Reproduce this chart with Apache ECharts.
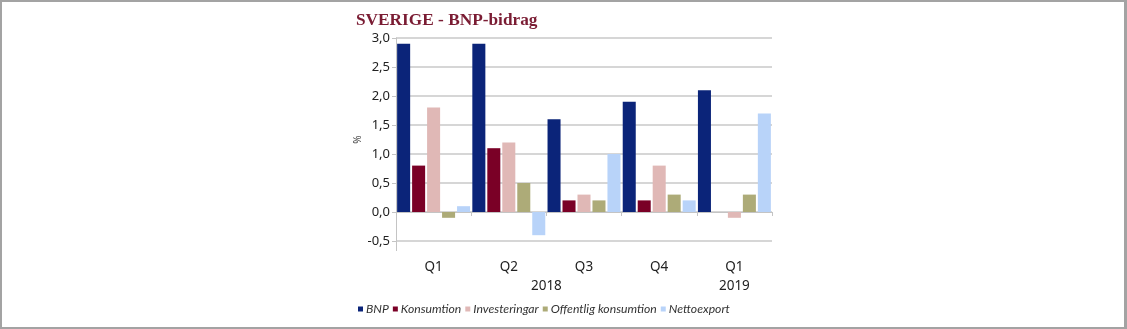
<!DOCTYPE html>
<html><head><meta charset="utf-8">
<script src="https://cdn.jsdelivr.net/npm/echarts@6/dist/echarts.min.js"></script>
<style>
html,body{margin:0;padding:0;background:#fff;}
#wrap{width:1127px;height:329px;box-sizing:border-box;border:2px solid #a3a3a3;border-right-width:3px;position:relative;}
#c{position:absolute;left:-2px;top:-2px;width:1127px;height:329px;}
</style></head>
<body><div id="wrap"><div id="c"></div></div>
<script>
const categories = ['Q1','Q2','Q3','Q4','Q1'];
const yearLabels = ['', '', '', '', '2018', '', '', '', '', '2019', ''];
const seriesNames = ['BNP','Konsumtion','Investeringar','Offentlig konsumtion','Nettoexport'];
const bnp = [2.9, 2.9, 1.6, 1.9, 2.1];
const konsumtion = [0.8, 1.1, 0.2, 0.2, 0.0];
const investeringar = [1.8, 1.2, 0.3, 0.8, -0.1];
const offentlig = [-0.1, 0.5, 0.2, 0.3, 0.3];
const nettoexport = [0.1, -0.4, 1.0, 0.2, 1.7];
const colors = ['#0B2479','#7A0026','#E0B8B6','#ADAB78','#B8D3F9'];
const allData = [bnp, konsumtion, investeringar, offentlig, nettoexport];

const chart = echarts.init(document.getElementById('c'));
chart.setOption({
  animation: false,
  title: {
    text: 'SVERIGE - BNP-bidrag', left: 351, top: 7,
    textStyle: {fontFamily: 'Liberation Serif', fontWeight: 'bold', fontSize: 17.3, color: '#7A1C33'}
  },
  legend: {
    left: 353, top: 298, itemWidth: 5, itemHeight: 5, itemGap: 4, icon: 'rect',
    textStyle: {fontFamily: 'Lato', fontStyle: 'italic', fontSize: 12.2, color: '#333', padding: [0,0,0,-2]},
    data: seriesNames
  },
  grid: {left: 396, right: 355, top: 38, bottom: 88},
  xAxis: [{
    type: 'category', data: categories, position: 'bottom', offset: 10,
    axisLine: {lineStyle: {color: '#c4c4c4', width: 1}},
    axisTick: {show: true, length: 4, lineStyle: {color: '#c4c4c4'}},
    axisLabel: {fontFamily: 'Noto Sans', fontSize: 13.5, color: '#222', margin: 9}
  }, {
    type: 'category', data: yearLabels, position: 'bottom', offset: 10, boundaryGap: false,
    axisLine: {show: false}, axisTick: {show: false},
    axisLabel: {interval: 0, fontFamily: 'Noto Sans', fontSize: 13.5, color: '#222', margin: 28}
  }],
  yAxis: {
    type: 'value', min: -0.5, max: 3.0, interval: 0.5,
    name: '%', nameLocation: 'middle', nameGap: 32, nameRotate: 90,
    nameTextStyle: {fontFamily: 'Noto Sans', fontSize: 10, color: '#444'},
    axisLine: {show: true, lineStyle: {color: '#c4c4c4'}},
    axisTick: {show: true, length: 4, lineStyle: {color: '#c4c4c4'}},
    splitLine: {lineStyle: {color: '#c8c8c8', width: 1.5}},
    axisLabel: {fontFamily: 'Noto Sans', fontSize: 13, color: '#222', margin: 6,
      formatter: v => v.toFixed(1).replace('.', ',')}
  },
  graphic: [{
    type: 'line', shape: {x1: 396.5, y1: 241, x2: 396.5, y2: 251},
    style: {stroke: '#c4c4c4', lineWidth: 1}
  }],
  series: seriesNames.map((n, i) => ({
    name: n, type: 'bar', data: allData[i], xAxisIndex: 0,
    barGap: '15%', barCategoryGap: '3%',
    itemStyle: {color: colors[i]}
  }))
});
</script></body></html>
